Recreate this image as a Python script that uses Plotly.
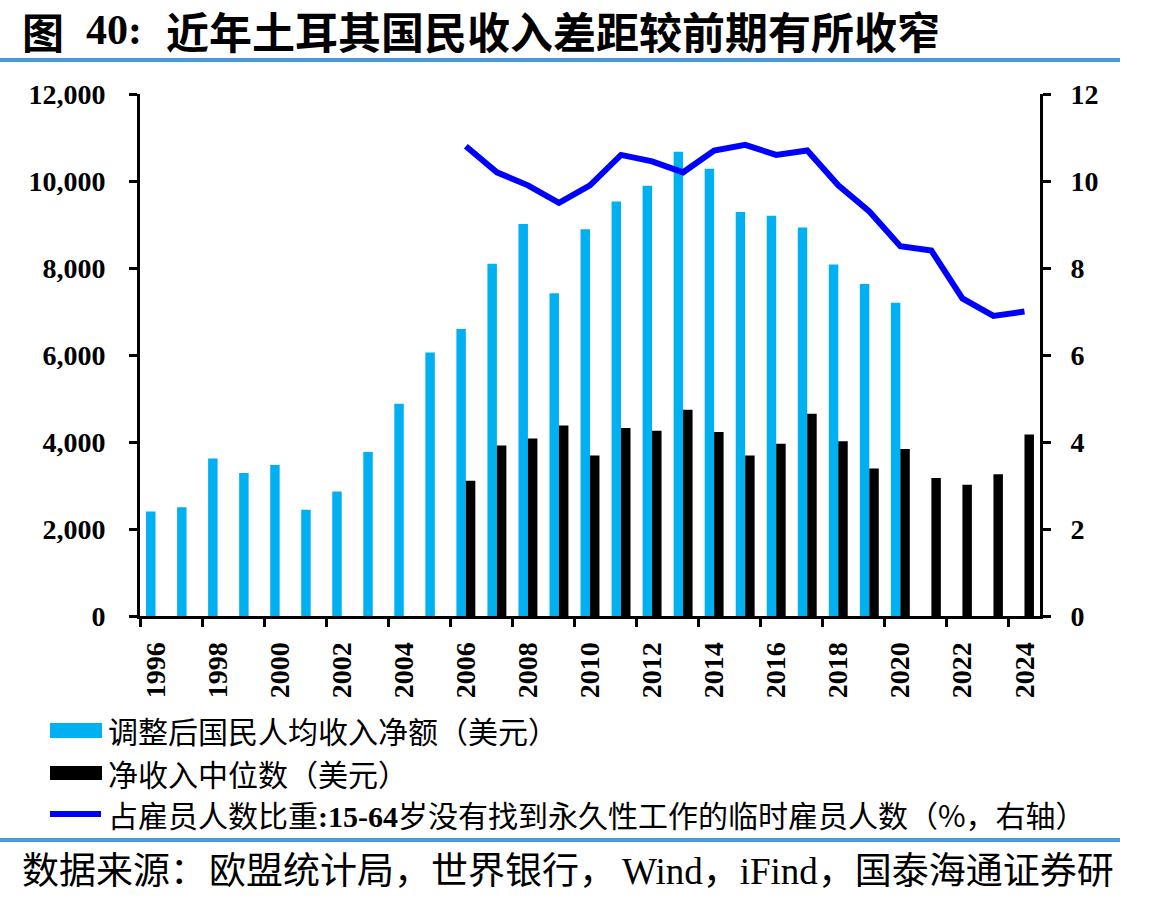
import plotly.graph_objects as go

years = list(range(1996, 2025))
gni_years = list(range(1996, 2021))
gni_values = [2400, 2500, 3620, 3290, 3470, 2440, 2860, 3770, 4880, 6060,
              6600, 8100, 9010, 7420, 8890, 9530, 9890, 10670, 10280, 9290,
              9200, 8930, 8080, 7630, 7200]
median_years = list(range(2006, 2025))
median_values = [3110, 3920, 4080, 4380, 3690, 4320, 4260, 4740, 4230, 3690,
                 3960, 4650, 4020, 3390, 3840, 3170, 3020, 3260, 4170]
temp_years = list(range(2006, 2025))
temp_share = [10.8, 10.2, 9.9, 9.5, 9.9, 10.6, 10.45, 10.2, 10.7, 10.83,
              10.6, 10.7, 9.9, 9.3, 8.5, 8.4, 7.3, 6.9, 7.0]
tick_years = list(range(1996, 2025, 2))
tick_labels = [str(y) for y in tick_years]

title_parts = ["图", "40:", "近年土耳其国民收入差距较前期有所收窄"]
legend_labels = ["调整后国民人均收入净额（美元）",
                 "净收入中位数（美元）",
                 "占雇员人数比重<span style='font-family:Liberation Serif'><b>:15-64</b></span>岁没有找到永久性工作的临时雇员人数（%，右轴）"]
source_parts = ["数据来源：", "欧盟统计局，世界银行，",
                "<span style='font-family:Liberation Serif'>Wind</span>，<span style='font-family:Liberation Serif'>iFind</span>，国泰海通证券研"]

W, H = 1168, 900
L, R, T, B = 140, 128, 94, 284
PW, PH = W - L - R, H - T - B


def px(x):
    return (x - L) / PW


def py(y):
    return (H - B - y) / PH


BLUE_BAR = "#00b0f0"
LINE_BLUE = "#0000ff"
RULE = "#4a9ad8"
CJK = "Noto Sans CJK SC"
SERIF = "Liberation Serif"

fig = go.Figure()
fig.add_trace(go.Bar(x=gni_years, y=gni_values, marker=dict(color=BLUE_BAR, line_width=0),
                     name=legend_labels[0], showlegend=False))
fig.add_trace(go.Bar(x=median_years, y=median_values, marker=dict(color="#000000", line_width=0),
                     name=legend_labels[1], showlegend=False))
fig.add_trace(go.Scatter(x=temp_years, y=temp_share, yaxis="y2", mode="lines",
                         line=dict(color=LINE_BLUE, width=6), name="temp", showlegend=False))

shapes = [
    dict(type="line", xref="paper", yref="paper", x0=px(0), x1=px(1120), y0=py(60), y1=py(60),
         line=dict(color=RULE, width=4)),
    dict(type="line", xref="paper", yref="paper", x0=px(0), x1=px(1120), y0=py(840), y1=py(840),
         line=dict(color=RULE, width=4)),
    dict(type="rect", xref="paper", yref="paper", x0=px(50), x1=px(102), y0=py(738), y1=py(723),
         fillcolor=BLUE_BAR, line_width=0),
    dict(type="rect", xref="paper", yref="paper", x0=px(50), x1=px(102), y0=py(780), y1=py(766),
         fillcolor="#000000", line_width=0),
    dict(type="line", xref="paper", yref="paper", x0=px(50), x1=px(101), y0=py(814), y1=py(814),
         line=dict(color=LINE_BLUE, width=6)),
]


def note(text, x, y, family, size, bold=False):
    return dict(text=("<b>" + text + "</b>") if bold else text, xref="paper", yref="paper",
                x=px(x), y=py(y), xanchor="left", yanchor="middle", showarrow=False,
                font=dict(family=family, size=size, color="#000000"))


annotations = [
    note(title_parts[0], 20, 30, CJK, 42, True),
    note(title_parts[1], 84, 30, SERIF, 42, True),
    note(title_parts[2], 164, 30, CJK, 43, True),
    note(source_parts[0], 20, 868, CJK, 37),
    note(source_parts[1], 207, 868, CJK, 37),
    note(source_parts[2], 620, 868, CJK, 37),
    note("究", 20, 922, CJK, 37),
]
for label, yc in zip(legend_labels, [730, 773, 814]):
    annotations.append(note(label, 106, yc, CJK, 30))

tickfont = dict(family=SERIF, size=28, color="#000000", weight="bold")

fig.update_layout(
    width=W, height=H,
    margin=dict(l=L, r=R, t=T, b=B),
    paper_bgcolor="white", plot_bgcolor="white",
    barmode="group", bargap=0.39, bargroupgap=0,
    showlegend=False,
    shapes=shapes, annotations=annotations,
    xaxis=dict(range=[1995.5, 2024.5], tickmode="array", tickvals=tick_years, ticktext=tick_labels,
               tickangle=-90, ticks="", showgrid=False, zeroline=False,
               showline=True, linecolor="#000000", linewidth=3,
               tickfont=tickfont, ticklabelstandoff=12,
               minor=dict(tick0=1995.5, dtick=2, ticks="outside", ticklen=8, tickwidth=3,
                          tickcolor="#000000", showgrid=False)),
    yaxis=dict(range=[0, 12000], dtick=2000, tickformat=",", ticks="outside", ticklen=8,
               tickwidth=3, tickcolor="#000000", showline=True, linecolor="#000000", linewidth=3,
               showgrid=False, zeroline=False, tickfont=tickfont, ticklabelstandoff=18),
    yaxis2=dict(range=[0, 12], dtick=2, overlaying="y", side="right", ticks="outside", ticklen=8,
                tickwidth=3, tickcolor="#000000", showline=True, linecolor="#000000", linewidth=3,
                showgrid=False, zeroline=False, tickfont=tickfont, ticklabelstandoff=14),
)

fig.write_html("out.html")
